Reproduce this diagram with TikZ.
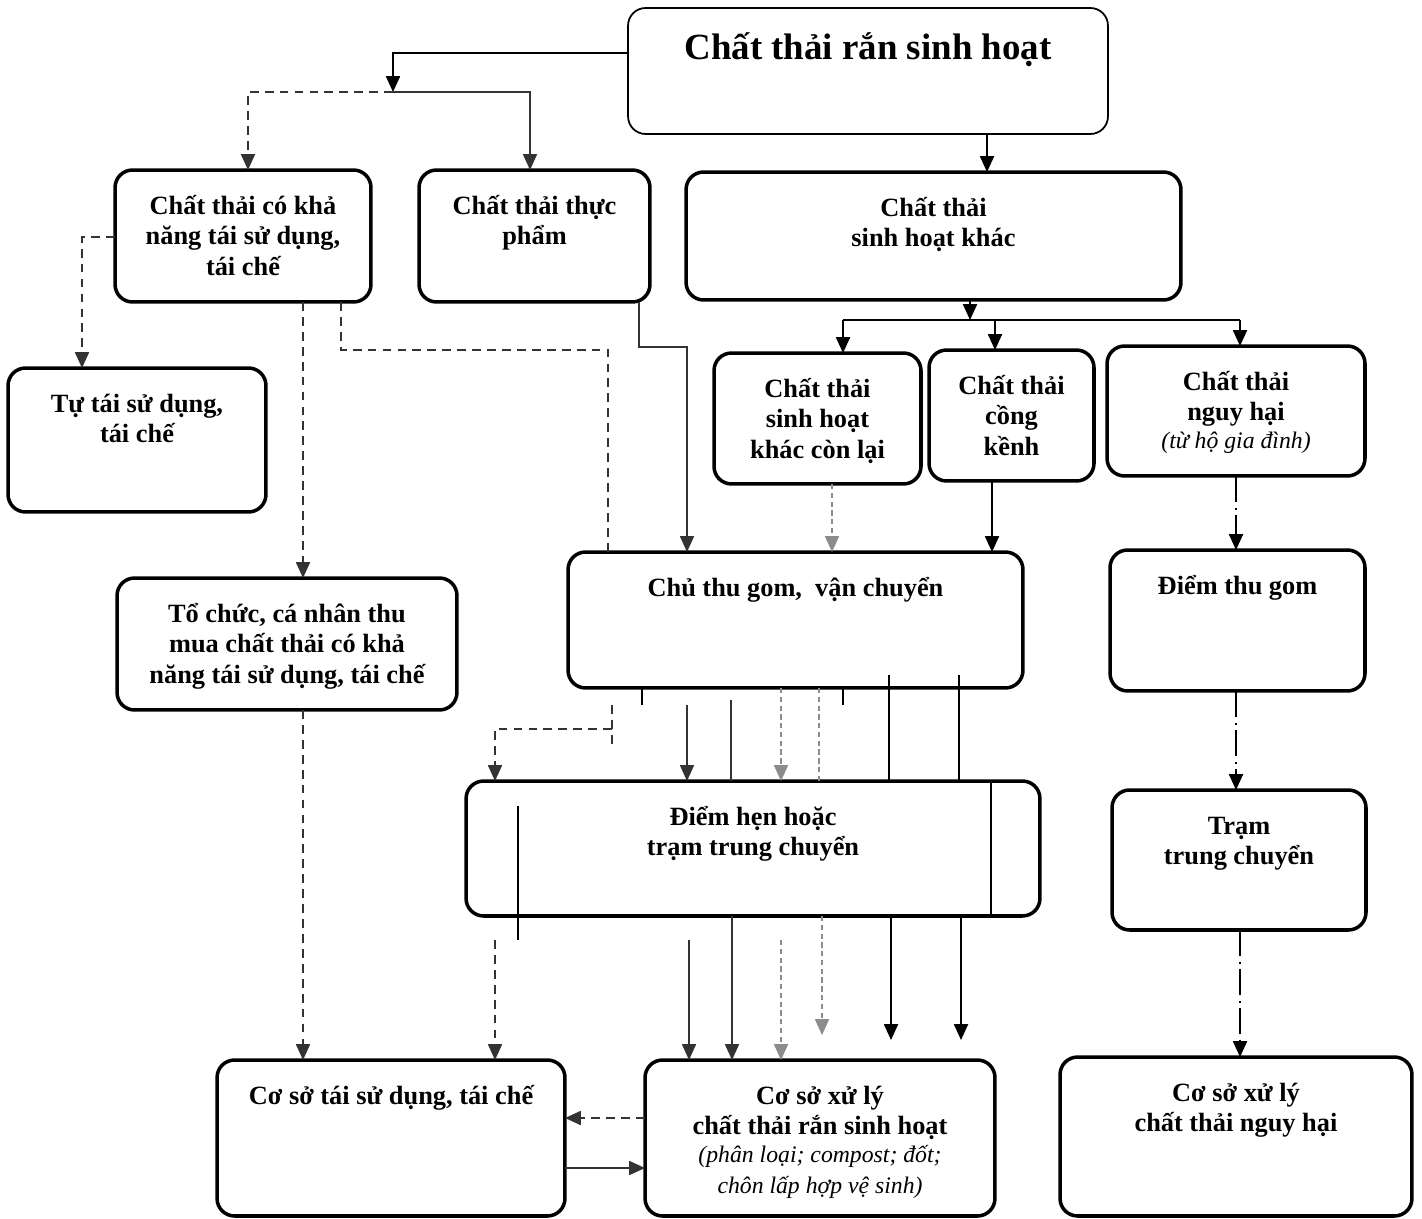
\documentclass[tikz,border=0pt]{standalone}
\usepackage{fontspec}
\setmainfont{Liberation Serif}
\usetikzlibrary{arrows.meta}
\def\boxtxt#1#2#3#4{\parbox[c][#2][t]{#1}{\centering\rule{0pt}{#3}#4}}
\def\subnote#1{{\fontsize{13.5}{15.5}\selectfont\mdseries\itshape #1}}

\begin{document}
\begin{tikzpicture}[x=0.02cm, y=-0.02cm,
    wbox/.style={draw, rounded corners=10pt, line width=2pt, inner sep=0pt, outer sep=0pt, font=\fontsize{15}{17.6}\selectfont\bfseries},
    >={Triangle[width=8pt,length=9pt]},
    conn/.style={line width=0.9pt},
    thinconn/.style={line width=0.7pt, black!80},
    dashconn/.style={line width=0.8pt, black!80, dash pattern=on 5pt off 3.5pt},
    greyconn/.style={line width=0.6pt, black!45, dash pattern=on 3pt off 2pt},
    hazconn/.style={line width=0.9pt, dash pattern=on 15pt off 3pt on 1.2pt off 3pt}]
		%%%%% START %%%%%
		\useasboundingbox (0,0) rectangle (1422,1219);
		
		\node[wbox, line width=1pt] (top) at (868,71) {\boxtxt{9.6cm}{2.52cm}{1.04cm}{\fontsize{21}{25}\selectfont Chất thải rắn sinh hoạt}};
		\node[wbox] (reuse) at (243,236) {\boxtxt{5.12cm}{2.64cm}{0.88cm}{Chất thải có khả\\năng tái sử dụng,\\tái chế}};
		\node[wbox] (food) at (534.5,236) {\boxtxt{4.62cm}{2.64cm}{0.88cm}{Chất thải thực\\phẩm}};
		\node[wbox] (other) at (933.5,236) {\boxtxt{9.9cm}{2.56cm}{0.88cm}{Chất thải\\sinh hoạt khác}};
		\node[wbox] (self) at (137,440) {\boxtxt{5.16cm}{2.88cm}{0.88cm}{Tự tái sử dụng,\\tái chế}};
		\node[wbox] (rest) at (817.5,418.5) {\boxtxt{4.14cm}{2.62cm}{0.88cm}{Chất thải\\sinh hoạt\\khác còn lại}};
		\node[wbox] (bulky) at (1011.5,415.5) {\boxtxt{3.3cm}{2.62cm}{0.88cm}{Chất thải\\cồng\\kềnh}};
		\node[wbox] (haz) at (1236,411) {\boxtxt{5.16cm}{2.6cm}{0.88cm}{Chất thải\\nguy hại\\[-2pt]\subnote{(từ hộ gia đình)}}};
		\node[wbox] (coll) at (795.5,620) {\boxtxt{9.1cm}{2.72cm}{0.88cm}{Chủ thu gom,~ vận chuyển}};
		\node[wbox] (point) at (1237.5,620.5) {\boxtxt{5.1cm}{2.82cm}{0.88cm}{Điểm thu gom}};
		\node[wbox] (buyer) at (287,644) {\boxtxt{6.8cm}{2.64cm}{0.88cm}{Tổ chức, cá nhân thu\\mua chất thải có khả\\năng tái sử dụng, tái chế}};
		\node[wbox] (trans) at (753,848.5) {\boxtxt{11.48cm}{2.7cm}{0.88cm}{Điểm hẹn hoặc\\trạm trung chuyển}};
		\node[wbox] (station) at (1239,860) {\boxtxt{5.08cm}{2.8cm}{0.88cm}{Trạm\\trung chuyển}};
		\node[wbox] (recyc) at (391,1138) {\boxtxt{6.96cm}{3.12cm}{0.88cm}{Cơ sở tái sử dụng, tái chế}};
		\node[wbox] (treat) at (820,1138) {\boxtxt{7cm}{3.12cm}{0.88cm}{Cơ sở xử lý\\chất thải rắn sinh hoạt\\\subnote{(phân loại; compost; đốt;\\chôn lấp hợp vệ sinh)}}};
		\node[wbox] (hazfac) at (1236,1136.5) {\boxtxt{7.04cm}{3.18cm}{0.88cm}{Cơ sở xử lý\\chất thải nguy hại}};
		
		% top splits left
		\coordinate (split) at (393,92);
		\draw[conn,->] (top.west |- 0,53) -| (split);
		\draw[dashconn,->] (split) -| (reuse.north -| 248,0);
		\draw[thinconn,->] (split) -| (food.north -| 530,0);
		
		% top to other waste, then three ways
		\draw[conn,->] (top.south -| 987,0) -- (other.north -| 987,0);
		\coordinate (bar) at (970,320);
		\draw[conn,->] (other.south -| bar) -- (bar);
		\draw[conn] (bar -| 843,0) -- (bar -| 1240,0);
		\draw[conn,->] (bar -| 843,0) -- (rest.north -| 843,0);
		\draw[conn,->] (bar -| 995,0) -- (bulky.north -| 995,0);
		\draw[conn,->] (bar -| 1240,0) -- (haz.north -| 1240,0);
		
		% reusable and food waste
		\draw[dashconn,->] (reuse.west |- 0,237) -| (self.north -| 82,0);
		\draw[dashconn,->] (reuse.south -| 303,0) -- (buyer.north -| 303,0);
		\draw[dashconn] (reuse.south -| 341,0) |- (608,350) -- (coll.north -| 608,0);
		\draw[thinconn,->] (food.south -| 639,0) |- (687,347) -- (coll.north -| 687,0);
		\draw[greyconn,->] (rest.south -| 832,0) -- (coll.north -| 832,0);
		\draw[conn,->] (bulky.south -| 992,0) -- (coll.north -| 992,0);
		
		% hazardous chain
		\draw[hazconn,->] (haz.south -| 1236,0) -- (point.north -| 1236,0);
		\draw[hazconn,->] (point.south -| 1236,0) -- (station.north -| 1236,0);
		\draw[hazconn,->] (station.south -| 1240,0) -- (hazfac.north -| 1240,0);
		
		% collector to transfer
		\draw[conn] (coll.south -| 642,0) -- ++(0,17);
		\draw[conn] (coll.south -| 843,0) -- ++(0,17);
		\draw[dashconn] (612,705) -- (612,745);
		\draw[dashconn,->] (612,729) -| (trans.north -| 495,0);
		\draw[thinconn,->] (687,705) -- (trans.north -| 687,0);
		\draw[thinconn] (731,700) -- (trans.north -| 731,0);
		\draw[greyconn,->] (coll.south -| 781,0) -- (trans.north -| 781,0);
		\draw[greyconn] (coll.south -| 819,0) -- (trans.north -| 819,0);
		\draw[conn] (889,675) -- (trans.north -| 889,0);
		\draw[conn] (959,675) -- (trans.north -| 959,0);
		\draw[conn] (trans.north -| 991,0) -- (trans.south -| 991,0);
		\draw[conn] (518,806) -- (518,940);
		
		% transfer to facilities
		\draw[dashconn,->] (495,940) -- (recyc.north -| 495,0);
		\draw[thinconn,->] (689,940) -- (treat.north -| 689,0);
		\draw[thinconn,->] (trans.south -| 732,0) -- (treat.north -| 732,0);
		\draw[greyconn,->] (781,940) -- (treat.north -| 781,0);
		\draw[greyconn,->] (trans.south -| 822,0) -- (822,1035);
		\draw[conn,->] (trans.south -| 891,0) -- (891,1040);
		\draw[conn,->] (trans.south -| 961,0) -- (961,1040);
		\draw[dashconn,->] (buyer.south -| 303,0) -- (recyc.north -| 303,0);
		\draw[dashconn,->] (treat.west |- 0,1118) -- (recyc.east |- 0,1118);
		\draw[thinconn,->] (recyc.east |- 0,1168) -- (treat.west |- 0,1168);
		%%%%% END %%%%%
\end{tikzpicture}
\end{document}
